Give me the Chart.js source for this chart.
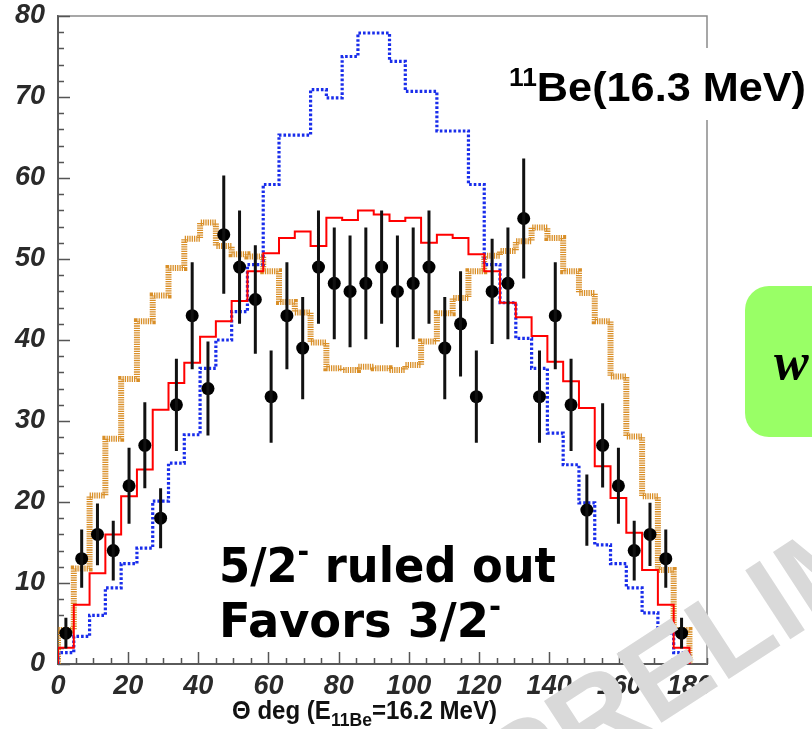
<!DOCTYPE html>
<html><head><meta charset="utf-8">
<script src="https://cdn.jsdelivr.net/npm/chart.js@4.4.1/dist/chart.umd.min.js"></script>
<style>html,body{margin:0;padding:0;background:#fff;overflow:hidden}#wrap{width:812px;height:729px;position:relative}</style>
</head><body><div id="wrap"><canvas id="c" width="812" height="729"></canvas></div>
<script>
// ---- data ----
const binLowEdges = [0,4.5,9,13.5,18,22.5,27,31.5,36,40.5,45,49.5,54,58.5,63,67.5,72,76.5,81,85.5,90,94.5,99,103.5,108,112.5,117,121.5,126,130.5,135,139.5,144,148.5,153,157.5,162,166.5,171,175.5];
const binUpperEdge = 180;
const dataAngles = [2.25,6.75,11.25,15.75,20.25,24.75,29.25,33.75,38.25,42.75,47.25,51.75,56.25,60.75,65.25,69.75,74.25,78.75,83.25,87.75,92.25,96.75,101.25,105.75,110.25,114.75,119.25,123.75,128.25,132.75,137.25,141.75,146.25,150.75,155.25,159.75,164.25,168.75,173.25,177.75];
const dataCounts = [3.8,13,16,14,22,27,18,32,43,34,53,49,45,33,43,39,49,47,46,47,49,46,47,49,39,42,33,46,47,55,33,43,32,19,27,22,14,16,13,3.8];
const dataErrors = [1.9,3.6,3.8,3.7,4.7,5.3,3.7,5.7,6.6,5.8,7.3,7,6.7,5.7,6.6,6.3,7,6.9,6.9,6.9,7,6.9,6.9,7,6.3,6.5,5.7,6.5,6.9,7.4,5.7,6.6,5.7,4.4,5.2,4.7,3.7,3.9,3.6,1.9];
const calcBlue = [1.4,3.4,6.0,9.4,12.4,14.3,20.1,24.8,28.3,36.5,40.0,43.5,49.3,59.2,65.3,65.3,70.9,69.9,75.0,77.9,77.9,74.4,70.7,70.7,65.8,65.8,59.2,49.3,44.6,40.2,36.5,28.5,24.6,19.9,14.7,12.4,9.4,6.3,3.8,1.4];
const calcRed = [2.0,7.3,11.2,16.0,20.7,24.0,31.4,34.7,37.2,40.4,42.3,44.8,48.5,50.7,52.6,53.4,51.6,55.1,54.8,56.0,55.5,54.7,55.1,52.0,53.0,52.6,50.6,48.5,44.6,42.8,40.5,37.3,34.9,31.6,24.4,20.5,16.2,11.6,7.3,2.0];
const calcOrange = [4.2,11.8,20.8,27.8,35.2,42.3,45.5,48.9,52.5,54.5,51.6,50.6,50.3,48.5,44.7,43.4,39.7,36.5,36.3,36.7,36.5,36.3,36.9,39.8,43.3,45.2,48.5,50.4,51.0,52.2,53.9,52.6,48.5,45.8,42.3,35.5,28.1,20.7,11.6,4.2];
const xTickValues = [0,20,40,60,80,100,120,140,160,180];
const yTickValues = [0,10,20,30,40,50,60,70,80];
const xRange = [0, 185];
const yRange = [0, 80];

function histPoints(vals){
  const pts = [{x: binLowEdges[0], y: 0}];
  vals.forEach((v,i)=>pts.push({x: binLowEdges[i], y: v}));
  pts.push({x: binUpperEdge, y: vals[vals.length-1]});
  pts.push({x: binUpperEdge, y: 0});
  return pts;
}
const dataPoints = dataAngles.map((a,i)=>({x:a, y:dataCounts[i]}));

const framePlugin = {
  id: 'frame',
  beforeDatasetsDraw(chart){
    const {ctx, chartArea:a, scales:{x, y}} = chart;
    ctx.save();
    ctx.strokeStyle = '#8a8a8a'; ctx.lineWidth = 1.5;
    ctx.beginPath();
    ctx.moveTo(a.left, a.top); ctx.lineTo(a.right, a.top); ctx.lineTo(a.right, a.bottom);
    ctx.stroke();
    ctx.strokeStyle = '#555'; ctx.lineWidth = 1.5;
    ctx.beginPath();
    for (let v = yRange[0]; v <= yRange[1] + 1e-9; v += 2) {
      const py = Math.round(y.getPixelForValue(v)) + 0.5;
      const len = (v % 10 === 0) ? 12 : 6;
      ctx.moveTo(a.left, py); ctx.lineTo(a.left + len, py);
    }
    for (let v = xRange[0]; v <= xRange[1] + 1e-9; v += 5) {
      const px = Math.round(x.getPixelForValue(v)) + 0.5;
      const len = (v % 20 === 0) ? 12 : 6;
      ctx.moveTo(px, a.bottom); ctx.lineTo(px, a.bottom - len);
    }
    ctx.stroke();
    ctx.restore();
  }
};

const errorPlugin = {
  id: 'errbars',
  afterDatasetsDraw(chart){
    const {ctx, scales:{x, y}} = chart;
    ctx.save();
    ctx.strokeStyle = '#111'; ctx.lineWidth = 3;
    ctx.beginPath();
    dataAngles.forEach((a,i)=>{
      const px = x.getPixelForValue(a);
      ctx.moveTo(px, y.getPixelForValue(dataCounts[i] - dataErrors[i]));
      ctx.lineTo(px, y.getPixelForValue(dataCounts[i] + dataErrors[i]));
    });
    ctx.stroke();
    ctx.restore();
  }
};

function drawRich(ctx, segs, x, y, baseFont, size, targetW){
  let w = 0;
  segs.forEach(s=>{ ctx.font = baseFont.replace('{s}', s.sup||s.sub ? s.size : size); s.w = ctx.measureText(s.t).width; w += s.w; });
  const k = targetW ? targetW / w : 1;
  ctx.save();
  ctx.translate(x, y); ctx.scale(k, 1);
  let cx = 0;
  segs.forEach(s=>{
    ctx.font = baseFont.replace('{s}', s.sup||s.sub ? s.size : size);
    const dy = s.sup ? -s.shift : (s.sub ? s.shift : 0);
    ctx.fillText(s.t, cx, dy);
    cx += s.w;
  });
  ctx.restore();
}

const annotPlugin = {
  id: 'annot',
  afterDraw(chart){
    const ctx = chart.ctx;
    ctx.save();
    ctx.textBaseline = 'alphabetic'; ctx.textAlign = 'left';
    // title box interrupting frame
    ctx.fillStyle = '#fff';
    ctx.fillRect(698, 48, 20, 72);
    ctx.fillStyle = '#000';
    drawRich(ctx, [
      {t:'11', sup:true, size:25, shift:15},
      {t:'Be(16.3 MeV)'}
    ], 509, 101, 'bold {s}px "Liberation Sans", Arial, sans-serif', 41, 297);
    // green box
    ctx.fillStyle = 'rgb(153,255,102)';
    ctx.beginPath();
    ctx.roundRect(745, 286, 120, 151, 24);
    ctx.fill();
    ctx.fillStyle = '#000';
    ctx.font = 'italic bold 52px "Liberation Serif", "Times New Roman", serif';
    ctx.fillText('w', 774, 379);
    // annotation text
    const cf = 'bold {s}px "Comic Sans MS", "DejaVu Sans", sans-serif';
    drawRich(ctx, [
      {t:'5/2'}, {t:'-', sup:true, size:30, shift:20}, {t:' ruled out'}
    ], 219, 582, cf, 48, 337);
    drawRich(ctx, [
      {t:'Favors 3/2'}, {t:'-', sup:true, size:30, shift:20}
    ], 219, 637, cf, 48, 282);
    // x axis title
    ctx.fillStyle = '#111';
    drawRich(ctx, [
      {t:'\u0398 deg (E'}, {t:'11Be', sub:true, size:19, shift:7}, {t:'=16.2 MeV)'}
    ], 232, 719, 'bold {s}px "Liberation Sans", Arial, sans-serif', 26, 265);
    // watermark
    ctx.translate(515, 818);
    ctx.rotate(-33 * Math.PI / 180);
    ctx.fillStyle = '#d9d9d9';
    ctx.font = 'bold 120px "Liberation Sans", Arial, sans-serif';
    ctx.fillText('PRELIMINARY', 0, 0);
    ctx.restore();
  }
};

const tickFont = {family: '"Liberation Sans", Arial, sans-serif', size: 27, style: 'italic', weight: 'bold', lineHeight: 1};

new Chart(document.getElementById('c'), {
  type: 'line',
  data: {
    datasets: [
      {label:'data', data: dataPoints, showLine:false, pointRadius:6.5, pointHoverRadius:6.5,
       pointBackgroundColor:'#000', pointBorderColor:'#000', pointBorderWidth:0, order:0},
      {label:'red', data: histPoints(calcRed), stepped:'before', borderColor:'rgb(255,0,0)', borderWidth:2,
       pointRadius:0, fill:false, order:1},
      {label:'blue', data: histPoints(calcBlue), stepped:'before', borderColor:'rgb(25,45,235)', borderWidth:3.2,
       borderDash:[2.6,2], pointRadius:0, fill:false, order:2},
      {label:'orange', data: histPoints(calcOrange), stepped:'before', borderColor:'rgba(214,134,22,0.92)', borderWidth:6,
       borderDash:[1.3,1], pointRadius:0, fill:false, order:3}
    ]
  },
  options: {
    responsive:false, animation:false, events:[],
    layout:{padding:{left:0, top:16, right:105, bottom:0}},
    plugins:{legend:{display:false}, tooltip:{enabled:false}},
    scales:{
      x:{type:'linear', min:xRange[0], max:xRange[1],
         afterFit:(s)=>{ s.height = 65; s.paddingLeft = 0; s.paddingRight = 0; },
         afterBuildTicks:(s)=>{ s.ticks = xTickValues.map(v=>({value:v})); },
         grid:{display:false, drawTicks:false},
         border:{display:true, color:'#5a5a5a', width:2},
         ticks:{font:tickFont, color:'#2a2a2a', padding:9, maxRotation:0, autoSkip:false}},
      y:{type:'linear', min:yRange[0], max:yRange[1],
         afterFit:(s)=>{ s.width = 58; s.paddingTop = 0; s.paddingBottom = 0; },
         afterBuildTicks:(s)=>{ s.ticks = yTickValues.map(v=>({value:v})); },
         grid:{display:false, drawTicks:false},
         border:{display:true, color:'#5a5a5a', width:2},
         ticks:{font:tickFont, color:'#2a2a2a', padding:13}}
    }
  },
  plugins:[framePlugin, errorPlugin, annotPlugin]
});
</script>
</body></html>
